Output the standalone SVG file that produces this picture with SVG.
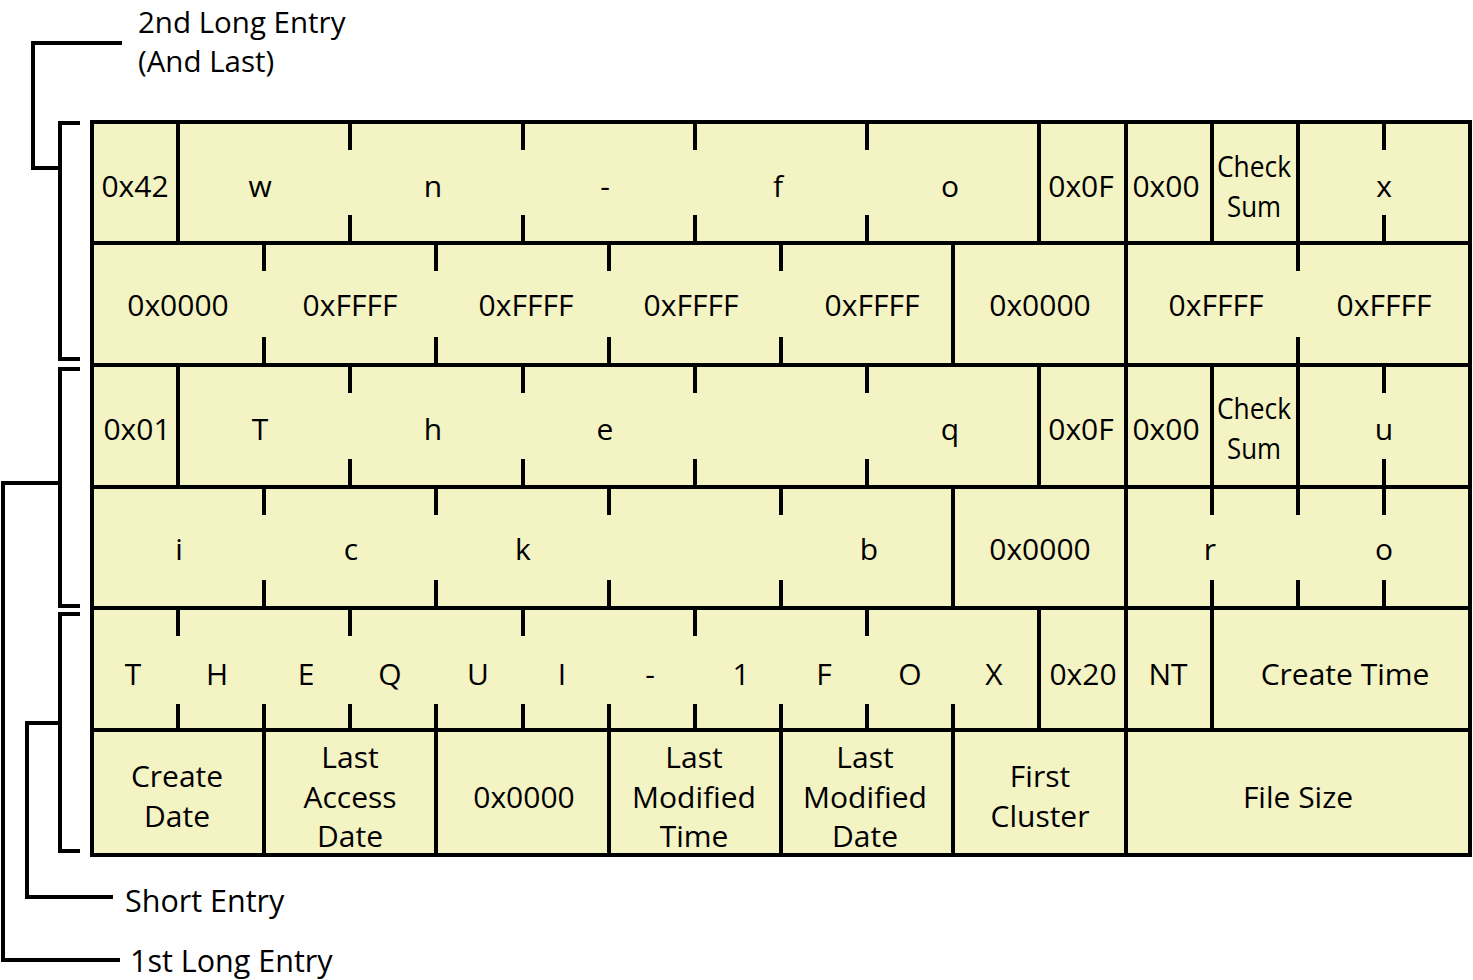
<svg xmlns="http://www.w3.org/2000/svg" width="1473" height="980" viewBox="0 0 1473 980">
<style>
  .ln { stroke: #000; stroke-width: 4; fill: none; }
  .t { font-family: "Open Sans", "Noto Sans", sans-serif; font-size: 30px; fill: #000; text-anchor: middle; }
  .lbl { font-family: "Open Sans", "Noto Sans", sans-serif; font-size: 30.5px; fill: #000; }
  .top { font-size: 29.5px; }
</style>
<rect x="0" y="0" width="1473" height="980" fill="#fff"/>

<!-- table background -->
<rect x="92" y="122" width="1378" height="733" fill="#F3F3C3"/>

<!-- 2nd long entry -->
<g id="entry-2nd-long">
  <g id="row1">
    <path class="ln" d="M178,122V243 M1039,122V243 M1126,122V243 M1212,122V243 M1298,122V243
      M350,122v28 M350,243v-28 M523,122v28 M523,243v-28 M695,122v28 M695,243v-28 M867,122v28 M867,243v-28 M1384,122v28 M1384,243v-28"/>
    <text class="t" x="135" y="197">0x42</text>
    <text class="t" x="260" y="197">w</text>
    <text class="t" x="433" y="197">n</text>
    <text class="t" x="605" y="197">-</text>
    <text class="t" x="778" y="197">f</text>
    <text class="t" x="950" y="197">o</text>
    <text class="t" x="1081" y="197">0x0F</text>
    <text class="t" x="1166" y="197">0x00</text>
    <text class="t" x="1254" y="177" textLength="74" lengthAdjust="spacingAndGlyphs">Check</text>
    <text class="t" x="1254" y="217" textLength="54" lengthAdjust="spacingAndGlyphs">Sum</text>
    <text class="t" x="1384" y="197">x</text>
  </g>
  <g id="row2">
    <path class="ln" d="M953,243V365 M1126,243V365
      M264,243v28 M264,365v-28 M436,243v28 M436,365v-28 M609,243v28 M609,365v-28 M781,243v28 M781,365v-28 M1298,243v28 M1298,365v-28"/>
    <text class="t" x="178" y="316">0x0000</text>
    <text class="t" x="350" y="316">0xFFFF</text>
    <text class="t" x="526" y="316">0xFFFF</text>
    <text class="t" x="691" y="316">0xFFFF</text>
    <text class="t" x="872" y="316">0xFFFF</text>
    <text class="t" x="1040" y="316">0x0000</text>
    <text class="t" x="1216" y="316">0xFFFF</text>
    <text class="t" x="1384" y="316">0xFFFF</text>
  </g>
</g>

<!-- 1st long entry -->
<g id="entry-1st-long">
  <g id="row3">
    <path class="ln" d="M178,365V487 M1039,365V487 M1126,365V487 M1212,365V487 M1298,365V487
      M350,365v28 M350,487v-28 M523,365v28 M523,487v-28 M695,365v28 M695,487v-28 M867,365v28 M867,487v-28 M1384,365v28 M1384,487v-28"/>
    <text class="t" x="137" y="440">0x01</text>
    <text class="t" x="260" y="440">T</text>
    <text class="t" x="433" y="440">h</text>
    <text class="t" x="605" y="440">e</text>
    <text class="t" x="950" y="440">q</text>
    <text class="t" x="1081" y="440">0x0F</text>
    <text class="t" x="1166" y="440">0x00</text>
    <text class="t" x="1254" y="419" textLength="74" lengthAdjust="spacingAndGlyphs">Check</text>
    <text class="t" x="1254" y="459" textLength="54" lengthAdjust="spacingAndGlyphs">Sum</text>
    <text class="t" x="1384" y="440">u</text>
  </g>
  <g id="row4">
    <path class="ln" d="M953,487V608 M1126,487V608
      M264,487v28 M264,608v-28 M436,487v28 M436,608v-28 M609,487v28 M609,608v-28 M781,487v28 M781,608v-28
      M1212,487v28 M1212,608v-28 M1298,487v28 M1298,608v-28 M1384,487v28 M1384,608v-28"/>
    <text class="t" x="179" y="560">i</text>
    <text class="t" x="351" y="560">c</text>
    <text class="t" x="523" y="560">k</text>
    <text class="t" x="869" y="560">b</text>
    <text class="t" x="1040" y="560">0x0000</text>
    <text class="t" x="1210" y="560">r</text>
    <text class="t" x="1384" y="560">o</text>
  </g>
</g>

<!-- short entry -->
<g id="entry-short">
  <g id="row5">
    <path class="ln" d="M1039,608V730 M1126,608V730 M1212,608V730
      M178,608v28 M350,608v28 M523,608v28 M695,608v28 M867,608v28
      M178,730v-26 M264,730v-26 M350,730v-26 M436,730v-26 M523,730v-26 M609,730v-26 M695,730v-26 M781,730v-26 M867,730v-26 M953,730v-26"/>
    <text class="t" x="133" y="685">T</text>
    <text class="t" x="217" y="685">H</text>
    <text class="t" x="306" y="685">E</text>
    <text class="t" x="390" y="685">Q</text>
    <text class="t" x="478" y="685">U</text>
    <text class="t" x="562" y="685">I</text>
    <text class="t" x="650" y="685">-</text>
    <text class="t" x="741" y="685">1</text>
    <text class="t" x="824" y="685">F</text>
    <text class="t" x="910" y="685">O</text>
    <text class="t" x="994" y="685">X</text>
    <text class="t" x="1083" y="685">0x20</text>
    <text class="t" x="1168" y="685">NT</text>
    <text class="t" x="1345" y="685">Create Time</text>
  </g>
  <g id="row6">
    <path class="ln" d="M264,730V855 M436,730V855 M609,730V855 M781,730V855 M953,730V855 M1126,730V855"/>
    <text class="t" x="177" y="787">Create</text>
    <text class="t" x="177" y="827">Date</text>
    <text class="t" x="350" y="768">Last</text>
    <text class="t" x="350" y="808">Access</text>
    <text class="t" x="350" y="847">Date</text>
    <text class="t" x="524" y="808">0x0000</text>
    <text class="t" x="694" y="768">Last</text>
    <text class="t" x="694" y="808">Modified</text>
    <text class="t" x="694" y="847">Time</text>
    <text class="t" x="865" y="768">Last</text>
    <text class="t" x="865" y="808">Modified</text>
    <text class="t" x="865" y="847">Date</text>
    <text class="t" x="1040" y="787">First</text>
    <text class="t" x="1040" y="827">Cluster</text>
    <text class="t" x="1298" y="808">File Size</text>
  </g>
</g>

<!-- table frame and row separators -->
<g id="frame">
  <rect class="ln" x="92" y="122" width="1378" height="733"/>
  <path class="ln" d="M92,243H1470 M92,365H1470 M92,487H1470 M92,608H1470 M92,730H1470"/>
</g>

<!-- brackets and connectors -->
<g id="connectors">
  <path class="ln" d="M80,123H60V359H80"/>
  <path class="ln" d="M80,369H60V606H80"/>
  <path class="ln" d="M80,614H60V851H80"/>
  <path class="ln" d="M60,168H33V43H122"/>
  <path class="ln" d="M60,483H3V960H120"/>
  <path class="ln" d="M60,723H27V897H113"/>
</g>

<!-- labels -->
<g id="label-2nd-long">
  <text class="lbl top" x="138" y="33">2nd Long Entry</text>
  <text class="lbl top" x="138" y="72">(And Last)</text>
</g>
<g id="label-short">
  <text class="lbl" x="125" y="912">Short Entry</text>
</g>
<g id="label-1st-long">
  <text class="lbl" x="130" y="972">1st Long Entry</text>
</g>
</svg>
